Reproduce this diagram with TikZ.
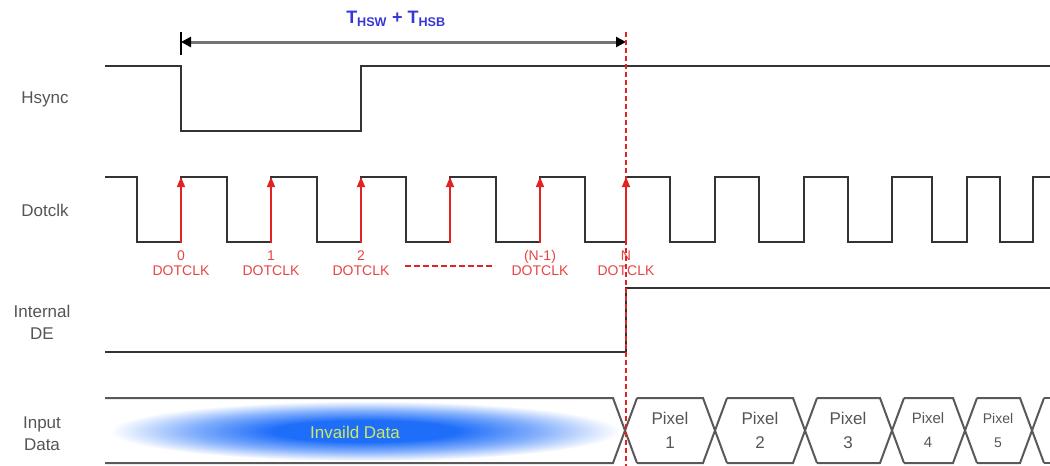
\documentclass[tikz,border=0pt]{standalone}
\usepackage{fontspec}
\setmainfont{Liberation Sans}
\usepackage{tikz}
\usetikzlibrary{arrows.meta}
\definecolor{clkred}{RGB}{225,35,35}
\definecolor{spanblue}{RGB}{55,55,215}
\definecolor{glowblue}{RGB}{30,110,250}
\definecolor{namegray}{RGB}{85,85,85}
\definecolor{glowtext}{RGB}{205,232,100}
\pgfdeclareradialshading{glow}{\pgfpoint{0bp}{0bp}}{color(0bp)=(glowblue); color(9bp)=(glowblue); color(17bp)=(glowblue!55); color(25bp)=(white); color(50bp)=(white)}

\begin{document}
\begin{tikzpicture}[x=1pt,y=-1pt,
  wave/.style={draw=black!80,line width=2pt},
  bus/.style={draw=black!65,line width=2pt},
  sig name/.style={font=\fontsize{17}{22}\selectfont,text=namegray,align=center},
  edge mark/.style={draw=clkred,line width=1.6pt,-{Triangle[length=10pt,width=8pt]}},
  edge name/.style={font=\fontsize{14}{15}\selectfont,text=clkred!85,align=center,inner sep=0pt},
  pixel name/.style={font=\fontsize{17}{24}\selectfont,text=namegray,align=center,inner sep=0pt}]

\useasboundingbox (0,0) rectangle (1050,466);

\node[sig name] (hsync) at (45,99) {Hsync};
\node[sig name] (dotclk) at (45,210) {Dotclk};
\node[sig name] (intde) at (42,322) {Internal\\DE};
\node[sig name] (indata) at (42,434) {Input\\Data};

% hsync
\draw[wave] (105,66) -- (181,66) -- (181,131) -- (361,131) -- (361,66) -- (1050,66);

% dotclk
\draw[wave] (105,177) foreach \f/\r in {137/181,227/271,317/361,406/450,496/540,585/626,670/715,759/804,848/892,932/967,1000/1033} { -- (\f,177) -- (\f,242) -- (\r,242) -- (\r,177) } -- (1050,177);

\foreach \x [count=\i] in {181,271,361,450,540,626} {
  \coordinate (lo\i) at (\x,243);
  \coordinate (hi\i) at (\x,177);
  \draw[edge mark] (lo\i) -- (hi\i);
}
\foreach \x/\t [count=\i] in {181/0,271/1,361/2,540/{(N-1)},626/N}
  \node[edge name] (cnt\i) at (\x,263) {\t\\DOTCLK};
\coordinate (gapL) at (405,266);
\coordinate (gapR) at (495,266);
\draw[clkred,line width=1.6pt,dash pattern=on 6pt off 3pt] (gapL) -- (gapR);

% internal DE
\draw[wave] (105,352) -- (626,352) -- (626,288) -- (1050,288);

% span
\coordinate (spanL) at (181,42);
\coordinate (spanR) at (626,42);
\draw[black,line width=2pt] (181,32) -- (181,55);
\draw[black!55,line width=3pt,{Triangle[color=black,length=10pt,width=10pt]}-{Triangle[color=black,length=10pt,width=10pt]}] (spanL) -- (spanR);
\node[text=spanblue,font=\fontsize{18}{20}\selectfont\bfseries] (span) at (396,19) {T\textsubscript{HSW} + T\textsubscript{HSB}};

% input data
\shade[shading=glow] (365,431) ellipse [x radius=255, y radius=30];
\node[text=glowtext,font=\fontsize{17}{20}\selectfont] (invalid) at (355,432) {Invaild Data};
\foreach \a/\b in {93/625,625/715,715/805,805/892,892/965,965/1032} {
  \draw[bus] (\a+12,398) -- (\b-12,398) -- (\b+12,463);
  \draw[bus] (\a+12,463) -- (\b-12,463) -- (\b+12,398);
}
\draw[bus] (1044,398) -- (1050,398);
\draw[bus] (1044,463) -- (1050,463);
\foreach \x/\n in {670/1,760/2,848/3} \node[pixel name] (px\n) at (\x,430) {Pixel\\\n};
\node[pixel name,font=\fontsize{15}{24}\selectfont] (px4) at (928,430) {Pixel\\4};
\node[pixel name,font=\fontsize{14}{24}\selectfont] (px5) at (998,430) {Pixel\\5};

% N edge
\draw[clkred,line width=1.5pt,dash pattern=on 5pt off 3pt] (626,32) -- (626,466);
\end{tikzpicture}
\end{document}
